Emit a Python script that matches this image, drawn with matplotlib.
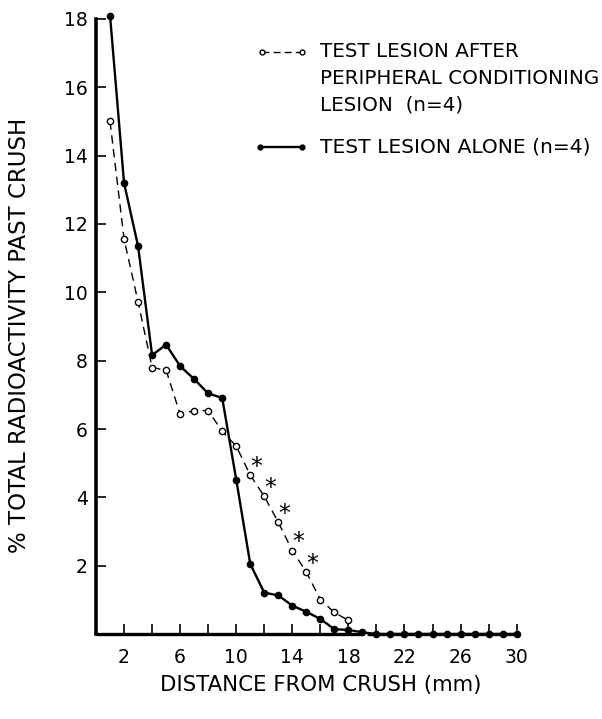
import matplotlib
matplotlib.use("Agg")
import matplotlib.pyplot as plt
import numpy as np

# distance from crush (mm)
dist_open = np.arange(1, 19)
dist_fill = np.arange(1, 31)

# test lesion after peripheral conditioning lesion (open circles, dashed)
pct_open = [15.0, 11.56, 9.72, 7.8, 7.72, 6.43, 6.54, 6.54, 5.93, 5.5,
            4.65, 4.03, 3.27, 2.44, 1.81, 1.01, 0.63, 0.4]
# test lesion alone (filled circles, solid)
pct_fill = [18.1, 13.2, 11.35, 8.16, 8.47, 7.84, 7.46, 7.04, 6.91, 4.52,
            2.05, 1.21, 1.13, 0.83, 0.65, 0.44, 0.14, 0.12, 0.05,
            0, 0, 0, 0, 0, 0, 0, 0, 0, 0, 0]
# points marked as significant
star_x = [11, 12, 13, 14, 15]

x_ticks = np.arange(2, 31, 2)
x_labels = [str(t) if (t - 2) % 4 == 0 else "" for t in x_ticks]
y_ticks = np.arange(2, 19, 2)

plt.rcParams["font.family"] = "DejaVu Sans"

fig = plt.figure(figsize=(6.02, 7.19), dpi=100)
ax = fig.add_axes([0.1595, 0.1182, 0.6987, 0.8554])

ax.plot(dist_open, pct_open, color="black", lw=1.0, ls=(0, (6, 4)),
        marker="o", ms=4.5, mfc="white", mec="black", mew=1.0,
        clip_on=False, zorder=3)
ax.plot(dist_fill, pct_fill, color="black", lw=1.7, marker="o", ms=4.5,
        mfc="black", mec="black", clip_on=False, zorder=4)

for xs in star_x:
    ax.annotate("*", (xs, pct_open[xs - 1]), xytext=(4.2, 6),
                textcoords="offset points", ha="center", va="center",
                fontsize=17)

ax.set_xlim(0, 30)
ax.set_ylim(0, 18)
ax.set_xticks(x_ticks)
ax.set_xticklabels(x_labels)
ax.set_yticks(y_ticks)
ax.tick_params(direction="in", length=7, width=1.2, labelsize=13.5)
ax.tick_params(axis="x", pad=10)
ax.tick_params(axis="y", pad=6)

for s in ["top", "right", "bottom"]:
    ax.spines[s].set_visible(False)
ax.spines["left"].set_linewidth(2.6)

# bottom axis drawn in two pieces (break near 19 mm)
ax.plot([0, 18.9], [0, 0], color="black", lw=2.4, clip_on=False, zorder=2,
        solid_capstyle="butt")
ax.plot([19.35, 30], [0, 0], color="black", lw=2.4, clip_on=False, zorder=2,
        solid_capstyle="butt")

# legend drawn by hand
ax.plot([0.395, 0.49], [0.946, 0.946], transform=ax.transAxes, color="black",
        lw=1.0, ls=(0, (5, 3)), marker="o", ms=3.5, mfc="white", mec="black",
        clip_on=False)
ax.plot([0.39, 0.49], [0.792, 0.792], transform=ax.transAxes, color="black",
        lw=1.7, marker="o", ms=3.5, mfc="black", clip_on=False)
ax.text(0.532, 0.9626, "TEST LESION AFTER\nPERIPHERAL CONDITIONING\nLESION  (n=4)",
        transform=ax.transAxes, va="top", ha="left", fontsize=14.3,
        linespacing=1.53)
ax.text(0.532, 0.792, "TEST LESION ALONE (n=4)", transform=ax.transAxes,
        va="center", ha="left", fontsize=14.6)

fig.text(20 / 602, 1 - 335 / 719, "% TOTAL RADIOACTIVITY PAST CRUSH",
         rotation=90, ha="center", va="center", fontsize=16.5)
fig.text(321 / 602, 1 - 685 / 719, "DISTANCE FROM CRUSH (mm)",
         ha="center", va="center", fontsize=15.3)

fig.savefig("out.png", dpi=100)
